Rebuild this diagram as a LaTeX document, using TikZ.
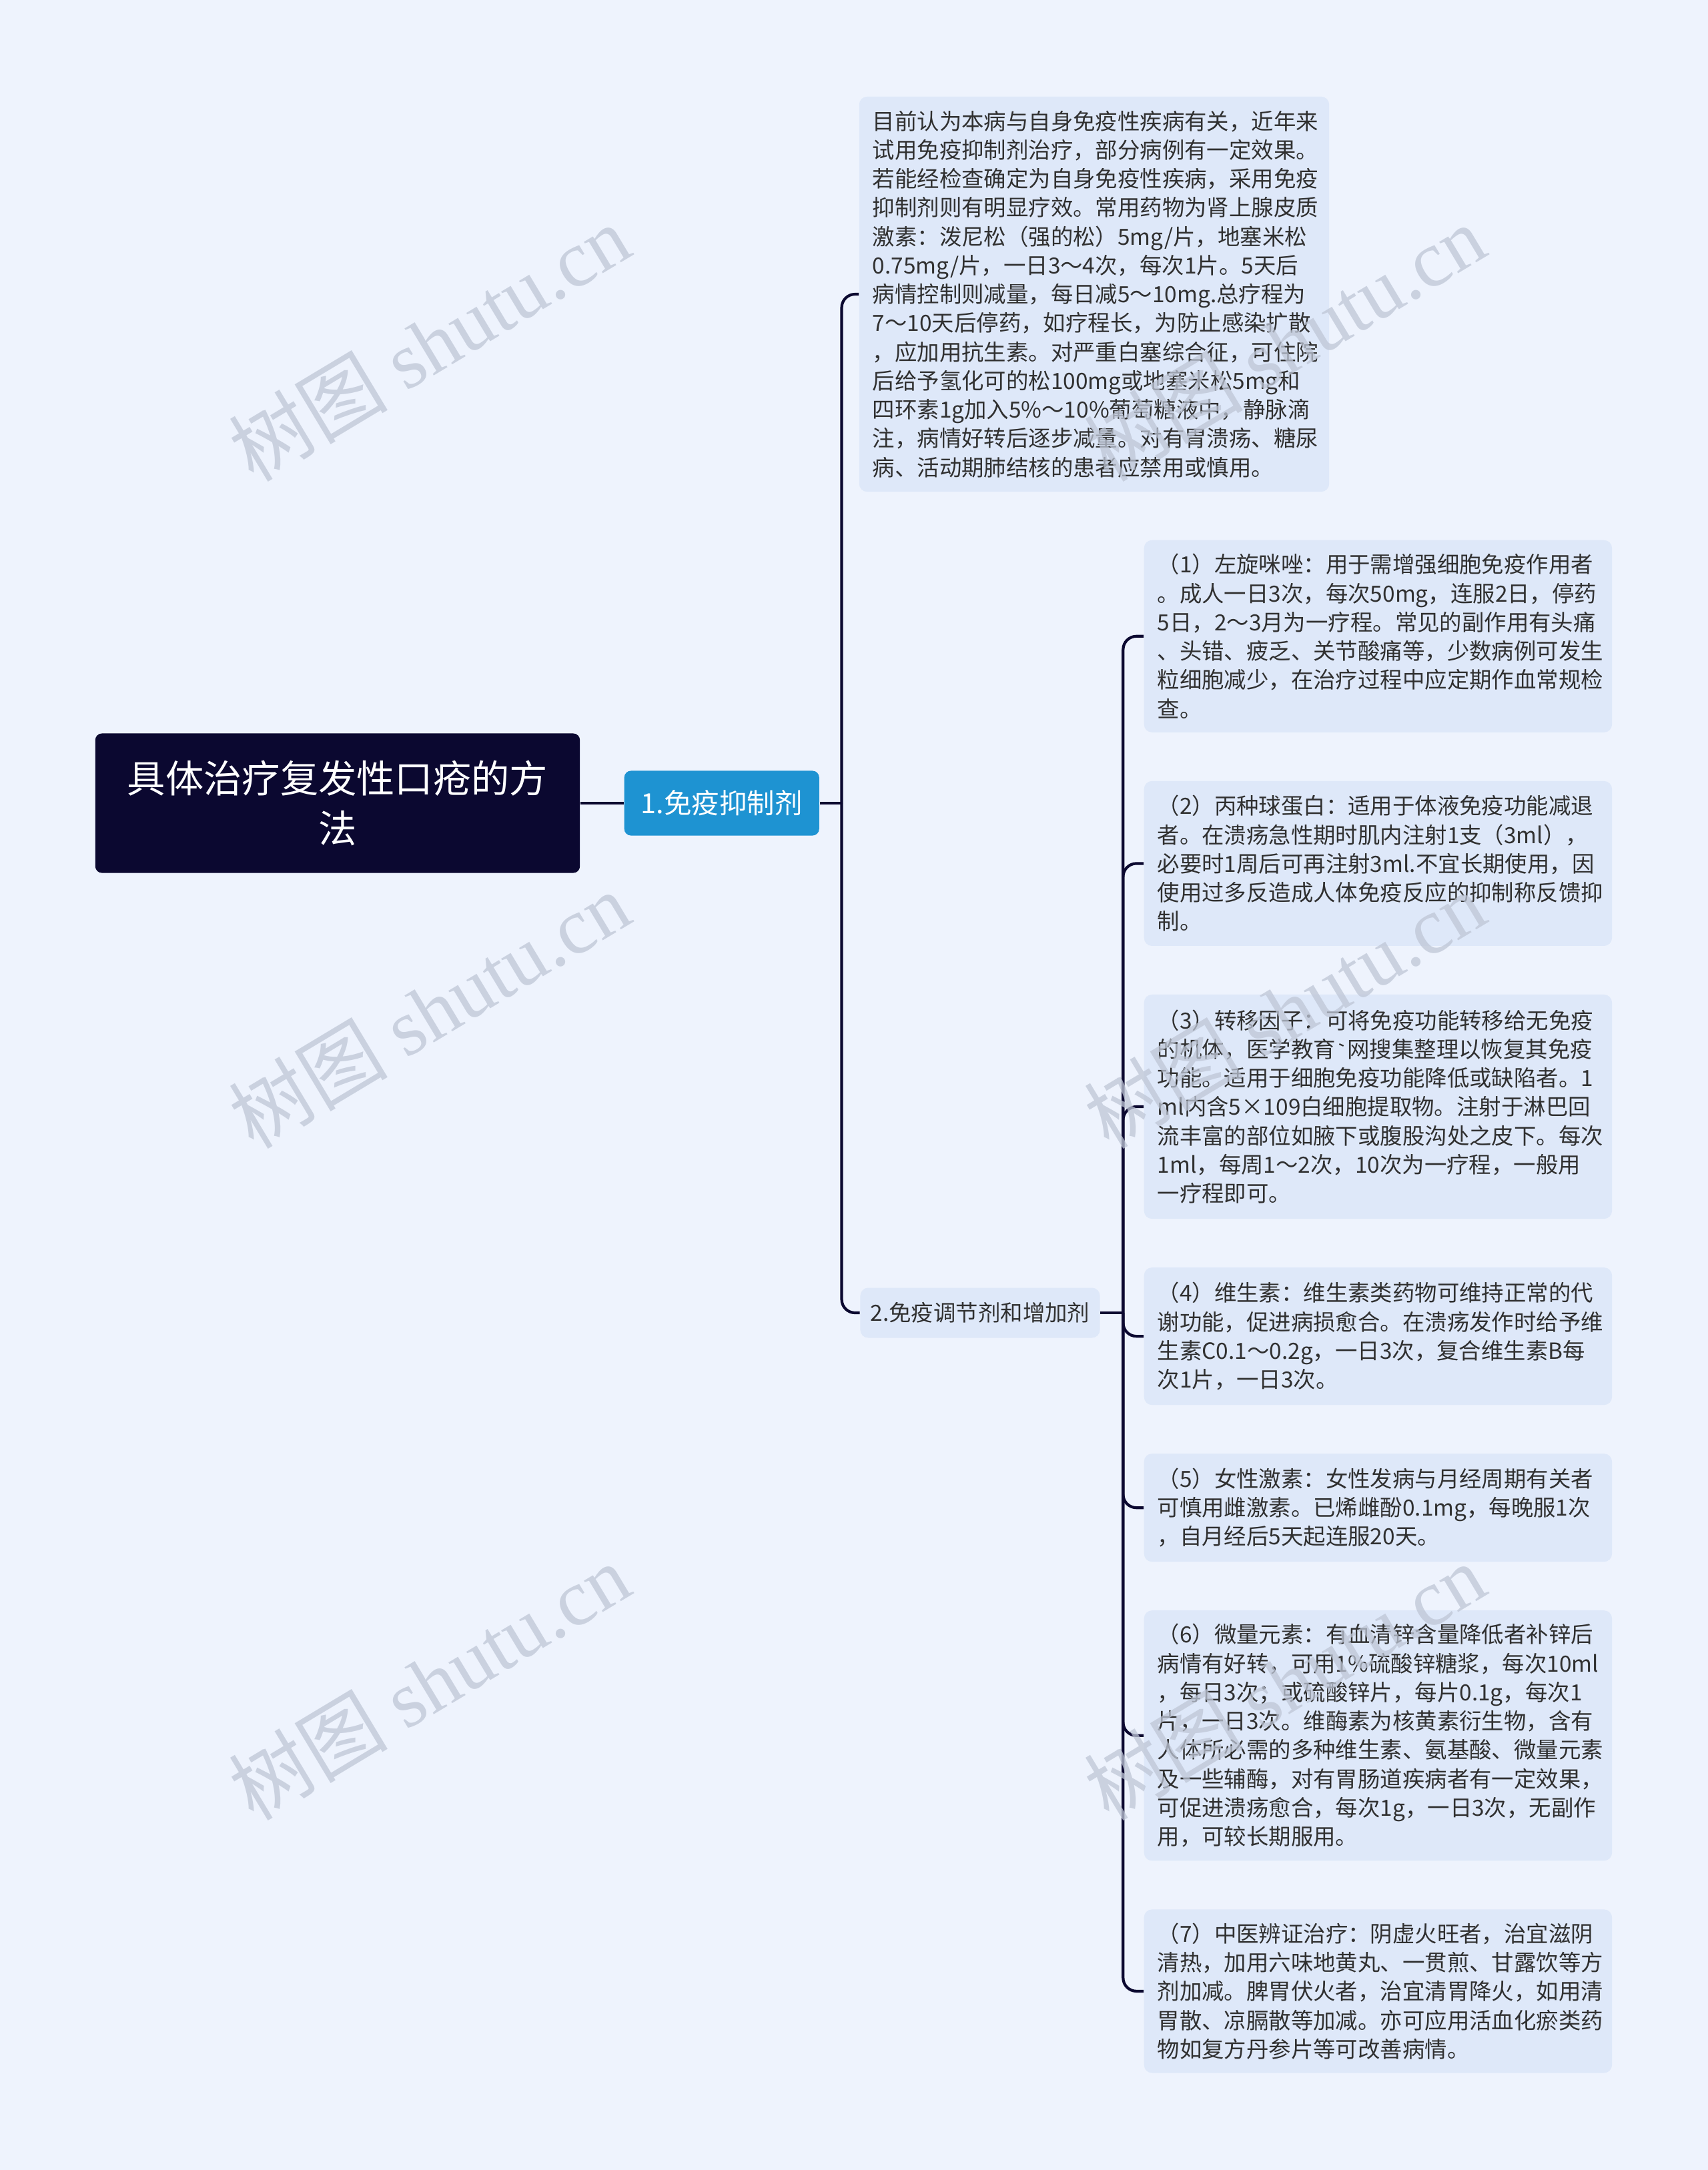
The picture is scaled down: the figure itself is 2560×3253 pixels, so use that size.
\documentclass[tikz,border=0pt]{standalone}
\usepackage{fontspec}
\newfontfamily\cjk{Noto Sans CJK SC}
\newfontfamily\wmserif{Liberation Serif}
\usetikzlibrary{positioning}
\definecolor{bgblue}{HTML}{EEF3FD}
\definecolor{boxblue}{HTML}{DEE8F9}
\definecolor{rootnavy}{HTML}{0B0830}
\definecolor{topicblue}{HTML}{1E93D2}
\definecolor{bodytxt}{HTML}{303030}
\definecolor{wmgray}{HTML}{BEC6D6}

\begin{document}
\begin{tikzpicture}[
  x=0.01cm, y=-0.01cm,
  node distance=0.715cm,
  rootbox/.style={fill=rootnavy, text=white, rounded corners=0.1cm,
    minimum width=7.26cm, minimum height=2.09cm, align=center,
    font=\cjk\fontsize{16.3}{21.3}\selectfont},
  topicbox/.style={fill=topicblue, text=white, rounded corners=0.1cm,
    minimum width=2.92cm, minimum height=0.97cm,
    font=\cjk\fontsize{11.8}{14}\selectfont},
  subtopic/.style={fill=boxblue, text=bodytxt, rounded corners=0.12cm,
    minimum width=3.59cm, minimum height=0.75cm,
    font=\cjk\fontsize{9.5}{12.3}\selectfont},
  notebox/.style={fill=boxblue, text=bodytxt, rounded corners=0.12cm,
    text width=6.61cm, inner xsep=0.2cm, inner ysep=0.1cm, align=left,
    font=\cjk\fontsize{9.5}{12.3}\selectfont},
  link/.style={draw=rootnavy, line width=1.2pt, rounded corners=0.2cm},
  watermark/.style={rotate=31, text=wmgray, opacity=0.75,
    font=\cjk\fontsize{34}{34}\selectfont},
]
  \fill[bgblue] (0,0) rectangle (2560,3253);
  \useasboundingbox (0,0) rectangle (2560,3253);

  \node[rootbox] (root) at (506,1204) {具体治疗复发性口疮的方\\法};
  \node[topicbox, right=0.65cm of root] (immsup) {1.免疫抑制剂};
  \node[notebox, text width=6.64cm, inner xsep=0.2cm, minimum height=5.92cm] (supnote) at (1640,441)
    {目前认为本病与自身免疫性疾病有关，近年来\\
     试用免疫抑制剂治疗，部分病例有一定效果。\\
     若能经检查确定为自身免疫性疾病，采用免疫\\
     抑制剂则有明显疗效。常用药物为肾上腺皮质\\
     激素：泼尼松（强的松）5mg/片，地塞米松\\
     0.75mg/片，一日3～4次，每次1片。5天后\\
     病情控制则减量，每日减5～10mg.总疗程为\\
     7～10天后停药，如疗程长，为防止感染扩散\\
     ，应加用抗生素。对严重白塞综合征，可住院\\
     后给予氢化可的松100mg或地塞米松5mg和\\
     四环素1g加入5\%～10\%葡萄糖液中，静脉滴\\
     注，病情好转后逐步减量。对有胃溃疡、糖尿\\
     病、活动期肺结核的患者应禁用或慎用。};
  \node[subtopic] (immreg) at (1469,1968) {2.免疫调节剂和增加剂};

  \node[notebox, minimum height=2.88cm, anchor=north west] (reg1) at (1714,809)
    {（1）左旋咪唑：用于需增强细胞免疫作用者\\
     。成人一日3次，每次50mg，连服2日，停药\\
     5日，2～3月为一疗程。常见的副作用有头痛\\
     、头错、疲乏、关节酸痛等，少数病例可发生\\
     粒细胞减少，在治疗过程中应定期作血常规检\\
     查。};
  \node[notebox, minimum height=2.47cm, below=of reg1] (reg2)
    {（2）丙种球蛋白：适用于体液免疫功能减退\\
     者。在溃疡急性期时肌内注射1支（3ml），\\
     必要时1周后可再注射3ml.不宜长期使用，因\\
     使用过多反造成人体免疫反应的抑制称反馈抑\\
     制。};
  \node[notebox, minimum height=3.36cm, below=of reg2] (reg3)
    {（3）转移因子：可将免疫功能转移给无免疫\\
     的机体，医学教育{\ttfamily\char96}网搜集整理以恢复其免疫\\
     功能。适用于细胞免疫功能降低或缺陷者。1\\
     ml内含5×109白细胞提取物。注射于淋巴回\\
     流丰富的部位如腋下或腹股沟处之皮下。每次\\
     1ml，每周1～2次，10次为一疗程，一般用\\
     一疗程即可。};
  \node[notebox, minimum height=2.06cm, below=of reg3] (reg4)
    {（4）维生素：维生素类药物可维持正常的代\\
     谢功能，促进病损愈合。在溃疡发作时给予维\\
     生素C0.1～0.2g，一日3次，复合维生素B每\\
     次1片，一日3次。};
  \node[notebox, minimum height=1.62cm, below=of reg4] (reg5)
    {（5）女性激素：女性发病与月经周期有关者\\
     可慎用雌激素。已烯雌酚0.1mg，每晚服1次\\
     ，自月经后5天起连服20天。};
  \node[notebox, minimum height=3.75cm, below=of reg5] (reg6)
    {（6）微量元素：有血清锌含量降低者补锌后\\
     病情有好转，可用1\%硫酸锌糖浆，每次10ml\\
     ，每日3次；或硫酸锌片，每片0.1g，每次1\\
     片，一日3次。维酶素为核黄素衍生物，含有\\
     人体所必需的多种维生素、氨基酸、微量元素\\
     及一些辅酶，对有胃肠道疾病者有一定效果，\\
     可促进溃疡愈合，每次1g，一日3次，无副作\\
     用，可较长期服用。};
  \node[notebox, minimum height=2.45cm, below=of reg6] (reg7)
    {（7）中医辨证治疗：阴虚火旺者，治宜滋阴\\
     清热，加用六味地黄丸、一贯煎、甘露饮等方\\
     剂加减。脾胃伏火者，治宜清胃降火，如用清\\
     胃散、凉膈散等加减。亦可应用活血化瘀类药\\
     物如复方丹参片等可改善病情。};

  \coordinate[right=0.33cm of immsup.east] (supfork);
  \coordinate[right=0.34cm of immreg.east] (regfork);

  \draw[link] (root.east) -- (immsup.west);
  \draw[link] (immsup.east) -- (supfork);
  \draw[link] (supfork) |- (supnote.west);
  \draw[link] (supfork) |- (immreg.west);
  \draw[link] (immreg.east) -- (regfork);
  \foreach \n in {reg1,reg2,reg3,reg4,reg5,reg6,reg7}
    \draw[link] (regfork) |- (\n.west);

  \foreach \wx in {643,1925}
    \foreach \wy in {514,1514,2521}
      \node[watermark] (wm-\wx-\wy) at (\wx,\wy) {树图 {\wmserif shutu.cn}};
\end{tikzpicture}
\end{document}
